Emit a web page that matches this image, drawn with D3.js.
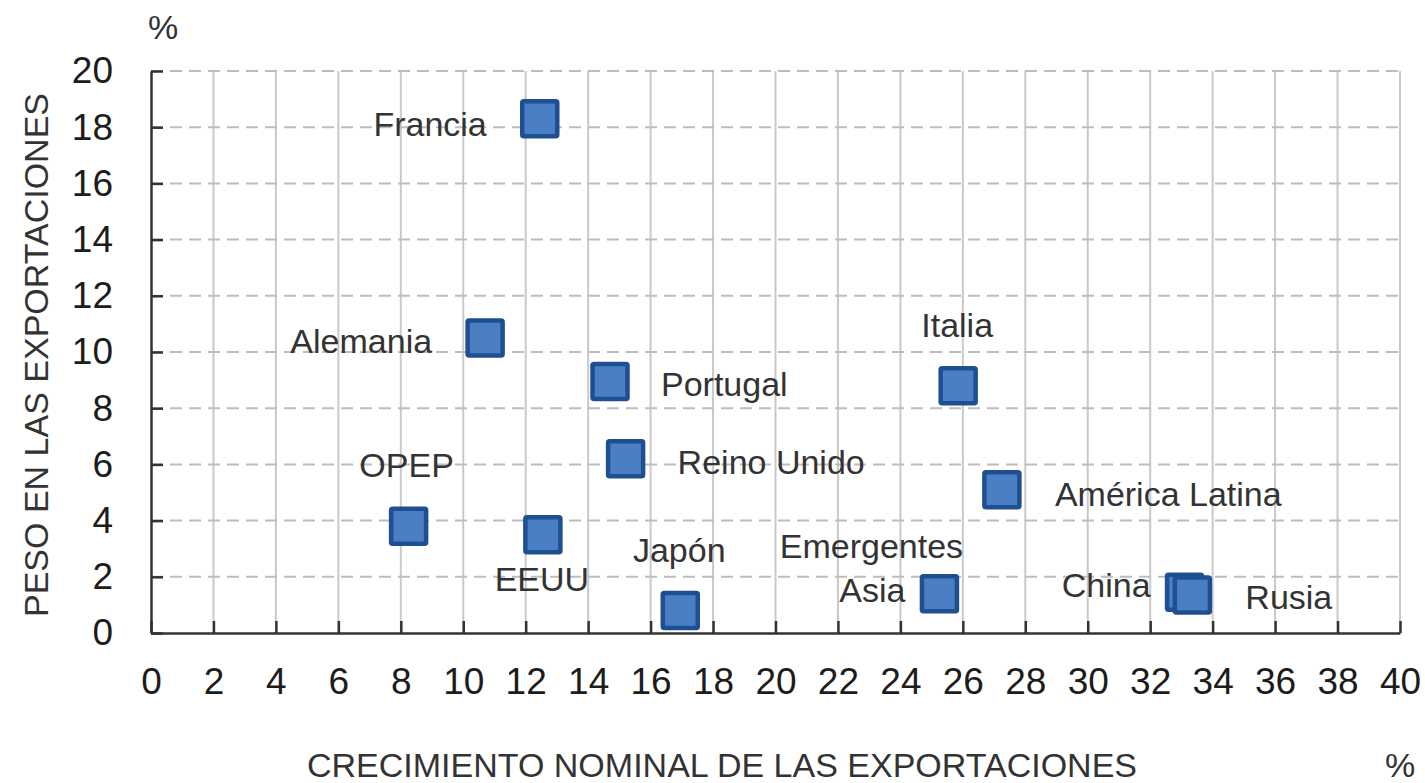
<!DOCTYPE html>
<html>
<head>
<meta charset="utf-8">
<script src="https://cdn.jsdelivr.net/npm/d3@7"></script>
<style>
  body { margin: 0; background: #fff; }
  svg { display: block; font-family: "Liberation Sans", Arial, sans-serif; }
  .tick text { fill: #1c1c1c; font-size: 37px; }
  .lbl { fill: #333; font-size: 34px; }
  .title { fill: #333; font-size: 34px; }
</style>
</head>
<body>
<script>
// data
var countries = ["Francia", "Alemania", "Portugal", "Italia", "Reino Unido", "América Latina",
                 "OPEP", "EEUU", "Japón", "Asia Emergentes", "China", "Rusia"];
var growth = [12.45, 10.7, 14.7, 25.85, 15.2, 27.25, 8.25, 12.55, 16.95, 25.25, 33.1, 33.35]; // x, %
var share  = [18.3, 10.5, 8.95, 8.8, 6.2, 5.1, 3.8, 3.5, 0.8, 1.4, 1.45, 1.35];              // y, %
var xTicks = d3.range(0, 41, 2);
var yTicks = d3.range(0, 21, 2);

var width = 1425, height = 783;
var margin = {left: 151, right: 25, top: 71, bottom: 150};

var svg = d3.select("body").append("svg")
    .attr("width", width)
    .attr("height", height);

var x = d3.scaleLinear().domain([0, 40]).range([margin.left, width - margin.right]);
var y = d3.scaleLinear().domain([0, 20]).range([height - margin.bottom, margin.top]);

//gridlines
svg.append("g").selectAll("line")
    .data(xTicks.filter(function(d){ return d > 0; }))
    .enter().append("line")
    .attr("x1", function(d){ return x(d); })
    .attr("x2", function(d){ return x(d); })
    .attr("y1", y(0))
    .attr("y2", y(20))
    .attr("stroke", "#c9c9c9")
    .attr("stroke-width", 2);

svg.append("g").selectAll("line")
    .data(yTicks.filter(function(d){ return d > 0; }))
    .enter().append("line")
    .attr("x1", x(0))
    .attr("x2", x(40))
    .attr("y1", function(d){ return y(d); })
    .attr("y2", function(d){ return y(d); })
    .attr("stroke", "#bdbdbd")
    .attr("stroke-width", 2)
    .attr("stroke-dasharray", "12,7");

//axes with inward ticks
var xAxis = d3.axisBottom(x).tickValues(xTicks).tickSize(-12).tickPadding(36).tickSizeOuter(0);
var yAxis = d3.axisLeft(y).tickValues(yTicks).tickSize(-12).tickPadding(38).tickSizeOuter(0);

var gx = svg.append("g")
    .attr("transform", "translate(0," + y(0) + ")")
    .call(xAxis);
var gy = svg.append("g")
    .attr("transform", "translate(" + x(0) + ",0)")
    .call(yAxis);

[gx, gy].forEach(function(g){
    g.select(".domain").attr("stroke", "#333").attr("stroke-width", 2.5);
    g.selectAll(".tick line").attr("stroke", "#333").attr("stroke-width", 2.5);
    g.selectAll(".tick text").attr("font-family", null).attr("font-size", null);
});
gx.selectAll(".tick text").attr("dy", "0.68em");

//markers
var pts = countries.map(function(c, i){ return {name: c, gx: growth[i], sh: share[i]}; });
var side = 35;

svg.append("g").selectAll("rect")
    .data(pts)
    .enter().append("rect")
    .attr("x", function(d){ return x(d.gx) - side / 2; })
    .attr("y", function(d){ return y(d.sh) - side / 2; })
    .attr("width", side)
    .attr("height", side)
    .attr("rx", 1.5)
    .attr("fill", "#4a80c3")
    .attr("stroke", "#1f4f92")
    .attr("stroke-width", 4.5);

//label placement relative to each marker (px)
var labelPos = {
    "Francia":         [{t: "Francia", a: "end", dx: -53, dy: 5}],
    "Alemania":        [{t: "Alemania", a: "end", dx: -53, dy: 3}],
    "Portugal":        [{t: "Portugal", a: "start", dx: 51, dy: 3}],
    "Italia":          [{t: "Italia", a: "middle", dx: -1, dy: -61}],
    "Reino Unido":     [{t: "Reino Unido", a: "start", dx: 52, dy: 3}],
    "América Latina":  [{t: "América Latina", a: "start", dx: 53, dy: 4}],
    "OPEP":            [{t: "OPEP", a: "middle", dx: -2, dy: -61}],
    "EEUU":            [{t: "EEUU", a: "middle", dx: -1, dy: 44}],
    "Japón":           [{t: "Japón", a: "middle", dx: -1, dy: -60}],
    "Asia Emergentes": [{t: "Emergentes", a: "middle", dx: -68, dy: -48},
                        {t: "Asia", a: "end", dx: -34, dy: -4}],
    "China":           [{t: "China", a: "end", dx: -34, dy: -7}],
    "Rusia":           [{t: "Rusia", a: "start", dx: 53, dy: 2}]
};

pts.forEach(function(d){
    labelPos[d.name].forEach(function(l){
        svg.append("text")
            .attr("class", "lbl")
            .attr("x", x(d.gx) + l.dx)
            .attr("y", y(d.sh) + l.dy)
            .attr("dy", "0.35em")
            .attr("text-anchor", l.a)
            .text(l.t);
    });
});

//axis titles
svg.append("text")
    .attr("class", "title")
    .attr("transform", "translate(48," + ((y(0) + y(20)) / 2 + 3) + ") rotate(-90)")
    .attr("text-anchor", "middle")
    .text("PESO EN LAS EXPORTACIONES");

svg.append("text")
    .attr("class", "title")
    .attr("x", 163)
    .attr("y", 39)
    .attr("text-anchor", "middle")
    .text("%");

svg.append("text")
    .attr("class", "title")
    .attr("x", 722)
    .attr("y", 777)
    .attr("text-anchor", "middle")
    .text("CRECIMIENTO NOMINAL DE LAS EXPORTACIONES");

svg.append("text")
    .attr("class", "title")
    .attr("x", 1400)
    .attr("y", 777)
    .attr("text-anchor", "middle")
    .text("%");
</script>
</body>
</html>
